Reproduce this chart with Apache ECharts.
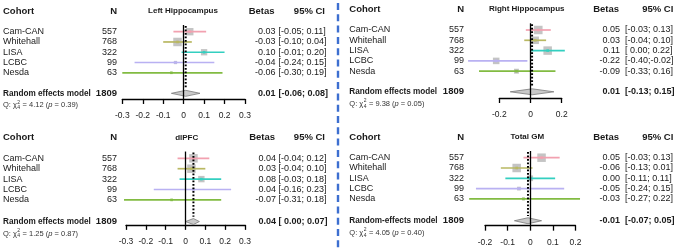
<!DOCTYPE html>
<html>
<head>
<meta charset="utf-8">
<script src="https://cdn.jsdelivr.net/npm/echarts@6/dist/echarts.min.js"></script>
<style>
  html, body { margin: 0; padding: 0; background: #fff; }
  #chart { width: 685px; height: 249px; }
</style>
</head>
<body>
<div id="chart"></div>
<script>
// cohorts, top to bottom
const cohorts = ['Cam-CAN', 'Whitehall', 'LISA', 'LCBC', 'Nesda'];
const cohortN = [557, 768, 322, 99, 63];
const totalN = 1809;

const regionTitles = ['Left Hippocampus', 'Right Hippocampus', 'dlPFC', 'Total GM'];
const pooledLabels = ['Random effects model', 'Random effects model', 'Random effects model', 'Random-effects model'];

// Left hippocampus
const lhBeta = [0.03, -0.03, 0.10, -0.04, -0.06];
const lhLower = [-0.05, -0.10, -0.01, -0.24, -0.30];
const lhUpper = [0.11, 0.04, 0.20, 0.15, 0.19];
const lhWeight = [30, 40, 22, 6, 2];
const lhPooled = [0.01, -0.06, 0.08];
const lhQ = [4.12, 0.39];

// Right hippocampus
const rhBeta = [0.05, 0.03, 0.11, -0.22, -0.09];
const rhLower = [-0.03, -0.04, 0.00, -0.40, -0.33];
const rhUpper = [0.13, 0.10, 0.22, -0.02, 0.16];
const rhWeight = [27, 21, 27, 16, 9];
const rhPooled = [0.01, -0.13, 0.15];
const rhQ = [9.38, 0.05];

// dlPFC
const dlBeta = [0.04, 0.03, 0.08, 0.04, -0.07];
const dlLower = [-0.04, -0.04, -0.03, -0.16, -0.31];
const dlUpper = [0.12, 0.10, 0.18, 0.23, 0.18];
const dlWeight = [37, 37, 21, 3, 2];
const dlPooled = [0.04, 0.00, 0.07];
const dlQ = [1.25, 0.87];

// Total GM
const gmBeta = [0.05, -0.06, 0.00, -0.05, -0.03];
const gmLower = [-0.03, -0.13, -0.11, -0.24, -0.27];
const gmUpper = [0.13, 0.01, 0.11, 0.15, 0.22];
const gmWeight = [36, 36, 16, 7, 4];
const gmPooled = [-0.01, -0.07, 0.05];
const gmQ = [4.05, 0.40];

const qDf = 4;

// x-axis tick labels
const ticksWide = [-0.3, -0.2, -0.1, 0, 0.1, 0.2, 0.3];
const ticksRight = [-0.2, 0, 0.2];
const ticksGM = [-0.2, -0.1, 0, 0.1, 0.2];

const regions = [
  { beta: lhBeta, lower: lhLower, upper: lhUpper, weight: lhWeight, pooled: lhPooled, q: lhQ, ticks: ticksWide },
  { beta: rhBeta, lower: rhLower, upper: rhUpper, weight: rhWeight, pooled: rhPooled, q: rhQ, ticks: ticksRight },
  { beta: dlBeta, lower: dlLower, upper: dlUpper, weight: dlWeight, pooled: dlPooled, q: dlQ, ticks: ticksWide },
  { beta: gmBeta, lower: gmLower, upper: gmUpper, weight: gmWeight, pooled: gmPooled, q: gmQ, ticks: ticksGM }
];

// layout of each panel (pixels)
const layouts = [
  { ox: 0,   oy: 0,   left: 122.3, width: 122.7, row0: 31.7,  step: 10.27, reRow: 6,   axisRow: 6.55,
    nameX: 3, nRight: 117, titleX: 183, betaRight: 275.5, ciLeft: 278.5, ciRight: 325 },
  { ox: 340, oy: 0,   left: 159.3, width: 62.4,  row0: 30,    step: 10.3,  reRow: 6,   axisRow: 6.6,
    nameX: 9.3, nRight: 124, titleX: 186.7, betaRight: 280, ciLeft: 285, ciRight: 333.3 },
  { ox: 0,   oy: 125, left: 126,   width: 119,   row0: 33.3,  step: 10.4,  reRow: 6.08, axisRow: 6.4,
    nameX: 3, nRight: 117, titleX: 186.7, betaRight: 276, ciLeft: 278.5, ciRight: 325 },
  { ox: 340, oy: 125, left: 145,   width: 90.5,  row0: 32.7,  step: 10.3,  reRow: 6.12, axisRow: 6.6,
    nameX: 9.3, nRight: 124, titleX: 187.3, betaRight: 280, ciLeft: 285, ciRight: 333.3 }
];

const colors = ['#f2a1b0', '#b9b862', '#33cfc0', '#b9b1f2', '#82bb42'];
const FONT = '"Liberation Sans", Arial, sans-serif';
const TOP = -0.65;

const fmt = v => v.toFixed(2);
const ciText = (lo, hi) => '[' + (lo < 0 ? '' : ' ') + fmt(lo) + ';' + (hi < 0 ? '' : ' ') + fmt(hi) + ']';

const measureCtx = document.createElement('canvas').getContext('2d');
function textWidth(str, size) {
  measureCtx.font = size + 'px ' + FONT;
  return measureCtx.measureText(str).width;
}

function txt(text, x, y, opts) {
  return {
    type: 'text',
    silent: true,
    style: Object.assign({
      text, x, y,
      fill: '#1a1a1a',
      fontSize: 9,
      fontFamily: FONT,
      align: 'left',
      verticalAlign: 'middle'
    }, opts || {})
  };
}

const chart = echarts.init(document.getElementById('chart'), null, { renderer: 'canvas' });

const grids = [], xAxes = [], yAxes = [], series = [];

regions.forEach((r, k) => {
  const L = layouts[k];
  const top = L.oy + L.row0 + TOP * L.step;
  grids.push({ left: L.ox + L.left, width: L.width, top: top, height: (L.axisRow - TOP) * L.step });
  const t = r.ticks;
  xAxes.push({
    gridIndex: k, type: 'value',
    min: t[0], max: t[t.length - 1], interval: +(t[1] - t[0]).toFixed(4),
    axisLine: { show: true, onZero: false, lineStyle: { color: '#000', width: 1.3 } },
    axisTick: { show: true, length: 5, lineStyle: { color: '#000', width: 1.3 } },
    axisLabel: { fontSize: 8.5, color: '#222', fontFamily: FONT, margin: 12.5,
      formatter: v => String(+(+v).toFixed(2)) },
    splitLine: { show: false }
  });
  yAxes.push({ gridIndex: k, type: 'value', inverse: true, min: TOP, max: L.axisRow, show: false });

  const maxW = Math.max.apply(null, r.weight);

  // per-cohort rows: square, CI line, labels
  series.push({
    type: 'custom', xAxisIndex: k, yAxisIndex: k, clip: false, silent: true,
    data: cohorts.map((c, i) => [r.beta[i], i, r.lower[i], r.upper[i], r.weight[i]]),
    markLine: {
      silent: true, symbol: 'none', label: { show: false },
      lineStyle: { color: '#000', type: 'solid', width: 1.3 },
      data: [{ xAxis: 0 }]
    },
    renderItem: (params, api) => {
      const i = params.dataIndex;
      const row = api.value(1);
      const p = api.coord([api.value(0), row]);
      const lo = api.coord([api.value(2), row]);
      const hi = api.coord([api.value(3), row]);
      const sz = 8.5 * Math.sqrt(api.value(4) / maxW);
      const y = p[1];
      return {
        type: 'group',
        children: [
          { type: 'rect', silent: true,
            shape: { x: p[0] - sz / 2, y: y - sz / 2, width: sz, height: sz },
            style: { fill: '#c4c4c4' } },
          { type: 'line', silent: true,
            shape: { x1: lo[0], y1: y, x2: hi[0], y2: y },
            style: { stroke: colors[i], lineWidth: 1.7 } },
          { type: 'rect', silent: true,
            shape: { x: p[0] - 1.3, y: y - 1.3, width: 2.6, height: 2.6 },
            style: { fill: colors[i], opacity: 0.9 } },
          txt(cohorts[i], L.ox + L.nameX, y),
          txt(String(cohortN[i]), L.ox + L.nRight, y, { align: 'right' }),
          txt(fmt(r.beta[i]), L.ox + L.betaRight, y, { align: 'right' }),
          txt(ciText(r.lower[i], r.upper[i]), L.ox + L.ciLeft, y)
        ]
      };
    }
  });

  // pooled estimate: diamond, dotted line, headers, summary text
  series.push({
    type: 'custom', xAxisIndex: k, yAxisIndex: k, clip: false, silent: true,
    data: [[r.pooled[0], L.reRow, r.pooled[1], r.pooled[2]]],
    z: 3,
    renderItem: (params, api) => {
      const est = api.value(0), row = api.value(1);
      const c = api.coord([est, row]);
      const lo = api.coord([api.value(2), row]);
      const hi = api.coord([api.value(3), row]);
      const topP = api.coord([est, TOP + 0.1]);
      const botP = api.coord([est, row - 0.45]);
      const hy = api.coord([0, -1.97])[1];
      const y = c[1];
      const h = 3;
      const qy = y + 12;
      const qx = L.ox + L.nameX;
      const q1 = 'Q: \u03c7';
      const w1 = textWidth(q1, 7.5);
      const bold = { fontWeight: 'bold' };
      return {
        type: 'group',
        children: [
          { type: 'line', silent: true,
            shape: { x1: topP[0], y1: topP[1], x2: botP[0], y2: botP[1] },
            style: { stroke: '#000', lineWidth: 2, lineDash: [1.6, 1.9] } },
          { type: 'polygon', silent: true,
            shape: { points: [[lo[0], y], [c[0], y - h], [hi[0], y], [c[0], y + h]] },
            style: { fill: '#c9c9c9', stroke: '#7a7a7a', lineWidth: 0.8 } },
          // headers
          txt('Cohort', L.ox + L.nameX, hy, Object.assign({ fontSize: 9.5 }, bold)),
          txt('N', L.ox + L.nRight, hy, Object.assign({ fontSize: 9.5, align: 'right' }, bold)),
          txt(regionTitles[k], L.ox + L.titleX, hy - 0.5, Object.assign({ fontSize: 8, align: 'center' }, bold)),
          txt('Betas', L.ox + L.betaRight - 1, hy, Object.assign({ fontSize: 9.5, align: 'right' }, bold)),
          txt('95% CI', L.ox + L.ciRight, hy, Object.assign({ fontSize: 9.5, align: 'right' }, bold)),
          // pooled row
          txt(pooledLabels[k], L.ox + L.nameX, y, Object.assign({ fontSize: 8.2 }, bold)),
          txt(String(totalN), L.ox + L.nRight, y, Object.assign({ fontSize: 9.5, align: 'right' }, bold)),
          txt(fmt(est), L.ox + L.betaRight, y, Object.assign({ align: 'right' }, bold)),
          txt(ciText(api.value(2), api.value(3)), L.ox + L.ciLeft, y, bold),
          // heterogeneity line
          txt(q1, qx, qy, { fontSize: 7.5, fill: '#333' }),
          txt('2', qx + w1 + 0.4, qy - 2.8, { fontSize: 5, fill: '#333' }),
          txt(String(qDf), qx + w1 + 0.4, qy + 2.4, { fontSize: 5, fill: '#333' }),
          txt('{n| = ' + r.q[0].toFixed(2) + ' (}{i|p}{n| = ' + r.q[1].toFixed(2) + ')}', qx + w1 + 3.6, qy, {
            fontSize: 7.5, fill: '#333',
            rich: {
              n: { fontSize: 7.5, fontFamily: FONT, fill: '#333' },
              i: { fontSize: 7.5, fontFamily: FONT, fill: '#333', fontStyle: 'italic' }
            }
          })
        ]
      };
    }
  });
});

chart.setOption({
  animation: false,
  backgroundColor: '#fff',
  grid: grids,
  xAxis: xAxes,
  yAxis: yAxes,
  series: series,
  graphic: [{
    type: 'line', silent: true,
    shape: { x1: 338, y1: 3, x2: 338, y2: 249 },
    style: { stroke: '#3d6fd0', lineWidth: 2.4, lineDash: [7, 4.3] }
  }]
});

window.addEventListener('resize', () => chart.resize());
</script>
</body>
</html>
